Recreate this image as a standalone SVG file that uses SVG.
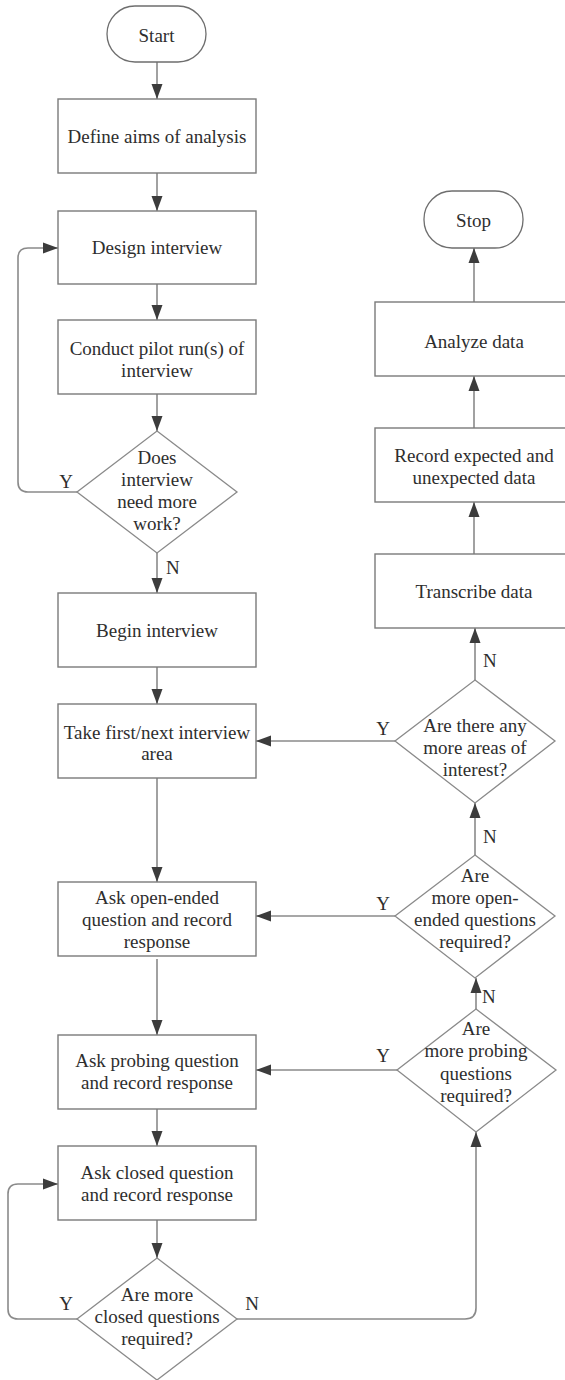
<svg xmlns="http://www.w3.org/2000/svg" width="565" height="1380" viewBox="0 0 565 1380">
  <style>
    .box { fill: #ffffff; stroke: #7a7a7a; stroke-width: 1.4; }
    .term { fill: #ffffff; stroke: #6e6e6e; stroke-width: 1.3; }
    .dia { fill: #ffffff; stroke: #8a8a8a; stroke-width: 1.3; }
    .line { fill: none; stroke: #8a8a8a; stroke-width: 1.6; }
    text { font-family: "Liberation Serif", "Times New Roman", serif; font-size: 19px; fill: #2e2e2e; text-anchor: middle; }
    .lbl { text-anchor: start; }
  </style>
  <defs>
    <marker id="arrow" markerUnits="userSpaceOnUse" markerWidth="16" markerHeight="12" refX="15" refY="6" orient="auto">
      <path d="M0,0.5 L15,6 L0,11.5 Z" fill="#3c3c3c"/>
    </marker>
  </defs>

  <!-- connectors -->
  <g id="connectors">
    <path class="line" d="M157,62 V99" marker-end="url(#arrow)"/>
    <path class="line" d="M157,173 V211" marker-end="url(#arrow)"/>
    <path class="line" d="M157,284 V320" marker-end="url(#arrow)"/>
    <path class="line" d="M157,394 V431" marker-end="url(#arrow)"/>
    <path class="line" d="M77,492 H28 Q18,492 18,482 V258 Q18,248 28,248 H58" marker-end="url(#arrow)"/>
    <path class="line" d="M157,553 V593" marker-end="url(#arrow)"/>
    <path class="line" d="M157,667 V704" marker-end="url(#arrow)"/>
    <path class="line" d="M157,778 V882" marker-end="url(#arrow)"/>
    <path class="line" d="M157,959 V1035" marker-end="url(#arrow)"/>
    <path class="line" d="M157,1109 V1146" marker-end="url(#arrow)"/>
    <path class="line" d="M157,1220 V1258" marker-end="url(#arrow)"/>
    <path class="line" d="M77,1319 H18 Q8,1319 8,1309 V1194 Q8,1184 18,1184 H58" marker-end="url(#arrow)"/>
    <path class="line" d="M237,1319 H465 Q476,1319 476,1308 V1132" marker-end="url(#arrow)"/>
    <path class="line" d="M397,1070 H256" marker-end="url(#arrow)"/>
    <path class="line" d="M476,1009 V978" marker-end="url(#arrow)"/>
    <path class="line" d="M395,916 H256" marker-end="url(#arrow)"/>
    <path class="line" d="M475,855 V803" marker-end="url(#arrow)"/>
    <path class="line" d="M395,741 H256" marker-end="url(#arrow)"/>
    <path class="line" d="M475,680 V628" marker-end="url(#arrow)"/>
    <path class="line" d="M474,554 V502" marker-end="url(#arrow)"/>
    <path class="line" d="M474,428 V376" marker-end="url(#arrow)"/>
    <path class="line" d="M474,302 V248" marker-end="url(#arrow)"/>
  </g>

  <!-- left column -->
  <g id="start">
    <rect class="term" x="107" y="6" width="99" height="56" rx="28" ry="28"/>
    <text x="156.5" y="42">Start</text>
  </g>
  <g id="define-aims">
    <rect class="box" x="58" y="99" width="198" height="74"/>
    <text x="157" y="143">Define aims of analysis</text>
  </g>
  <g id="design-interview">
    <rect class="box" x="58" y="211" width="198" height="73"/>
    <text x="157" y="254">Design interview</text>
  </g>
  <g id="pilot-run">
    <rect class="box" x="58" y="320" width="198" height="74"/>
    <text x="157" y="355">Conduct pilot run(s) of</text>
    <text x="157" y="377">interview</text>
  </g>
  <g id="needs-work">
    <polygon class="dia" points="157,431 237,492 157,553 77,492"/>
    <text x="157" y="464">Does</text>
    <text x="157" y="486">interview</text>
    <text x="157" y="508">need more</text>
    <text x="157" y="530">work?</text>
    <text x="66" y="488">Y</text>
    <text class="lbl" x="166" y="574">N</text>
  </g>
  <g id="begin-interview">
    <rect class="box" x="58" y="593" width="198" height="74"/>
    <text x="157" y="637">Begin interview</text>
  </g>
  <g id="take-area">
    <rect class="box" x="58" y="704" width="198" height="74"/>
    <text x="157" y="739">Take first/next interview</text>
    <text x="157" y="760">area</text>
  </g>
  <g id="open-ended">
    <rect class="box" x="58" y="882" width="198" height="74"/>
    <text x="157" y="904">Ask open-ended</text>
    <text x="157" y="926">question and record</text>
    <text x="157" y="948">response</text>
  </g>
  <g id="probing">
    <rect class="box" x="58" y="1035" width="198" height="74"/>
    <text x="157" y="1067">Ask probing question</text>
    <text x="157" y="1089">and record response</text>
  </g>
  <g id="closed">
    <rect class="box" x="58" y="1146" width="198" height="74"/>
    <text x="157" y="1179">Ask closed question</text>
    <text x="157" y="1201">and record response</text>
  </g>
  <g id="more-closed">
    <polygon class="dia" points="157,1258 237,1319 157,1380 77,1319"/>
    <text x="157" y="1301">Are more</text>
    <text x="157" y="1323">closed questions</text>
    <text x="157" y="1345">required?</text>
    <text x="66" y="1310">Y</text>
    <text x="252" y="1310">N</text>
  </g>

  <!-- right column -->
  <g id="stop">
    <rect class="term" x="424" y="191" width="99" height="57" rx="28" ry="28"/>
    <text x="473.5" y="227">Stop</text>
  </g>
  <g id="analyze">
    <rect class="box" x="375" y="302" width="200" height="74"/>
    <text x="474" y="348">Analyze data</text>
  </g>
  <g id="record-data">
    <rect class="box" x="375" y="428" width="200" height="74"/>
    <text x="474" y="462">Record expected and</text>
    <text x="474" y="484">unexpected data</text>
  </g>
  <g id="transcribe">
    <rect class="box" x="375" y="554" width="200" height="74"/>
    <text x="474" y="598">Transcribe data</text>
  </g>
  <g id="more-areas">
    <polygon class="dia" points="475,680 555,741 475,803 395,741"/>
    <text x="475" y="732">Are there any</text>
    <text x="475" y="754">more areas of</text>
    <text x="475" y="776">interest?</text>
    <text x="383" y="735">Y</text>
    <text class="lbl" x="483" y="667">N</text>
  </g>
  <g id="more-open">
    <polygon class="dia" points="475,855 555,916 475,978 395,916"/>
    <text x="475" y="882">Are</text>
    <text x="475" y="904">more open-</text>
    <text x="475" y="926">ended questions</text>
    <text x="475" y="948">required?</text>
    <text x="383" y="910">Y</text>
    <text class="lbl" x="483" y="843">N</text>
  </g>
  <g id="more-probing">
    <polygon class="dia" points="476,1009 556,1070 476,1132 397,1070"/>
    <text x="476" y="1035">Are</text>
    <text x="476" y="1057">more probing</text>
    <text x="476" y="1080">questions</text>
    <text x="476" y="1102">required?</text>
    <text x="383" y="1062">Y</text>
    <text class="lbl" x="482" y="1003">N</text>
  </g>
</svg>
